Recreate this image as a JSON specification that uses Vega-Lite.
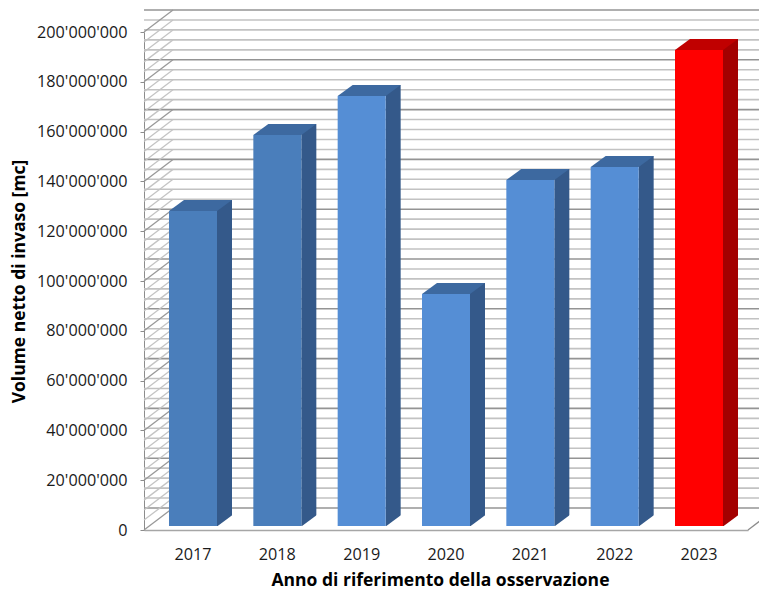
{
  "$schema": "https://vega.github.io/schema/vega-lite/v6.json",
  "width": 604,
  "height": 498,
  "autosize": {"type": "none"},
  "padding": {"left": 144, "top": 32, "right": 11, "bottom": 62},
  "background": "white",
  "config": {
    "locale": {"number": {"decimal": ".", "thousands": "'", "grouping": [3], "currency": ["", ""]}},
    "view": {"stroke": null},
    "axis": {
      "labelFont": "Open Sans", "labelFontSize": 16.2, "labelColor": "#1a1a1a",
      "titleFont": "Open Sans", "titleFontSize": 17.5, "titleFontWeight": "bold", "titleColor": "#000000",
      "domainColor": "#8c8c8c", "tickColor": "#8c8c8c", "grid": false
    }
  },
  "datasets": {
    "griglia": [
      {"valore": 0}, {"valore": 4000000}, {"valore": 8000000}, {"valore": 12000000}, {"valore": 16000000},
      {"valore": 20000000}, {"valore": 24000000}, {"valore": 28000000}, {"valore": 32000000}, {"valore": 36000000},
      {"valore": 40000000}, {"valore": 44000000}, {"valore": 48000000}, {"valore": 52000000}, {"valore": 56000000},
      {"valore": 60000000}, {"valore": 64000000}, {"valore": 68000000}, {"valore": 72000000}, {"valore": 76000000},
      {"valore": 80000000}, {"valore": 84000000}, {"valore": 88000000}, {"valore": 92000000}, {"valore": 96000000},
      {"valore": 100000000}, {"valore": 104000000}, {"valore": 108000000}, {"valore": 112000000}, {"valore": 116000000},
      {"valore": 120000000}, {"valore": 124000000}, {"valore": 128000000}, {"valore": 132000000}, {"valore": 136000000},
      {"valore": 140000000}, {"valore": 144000000}, {"valore": 148000000}, {"valore": 152000000}, {"valore": 156000000},
      {"valore": 160000000}, {"valore": 164000000}, {"valore": 168000000}, {"valore": 172000000}, {"valore": 176000000},
      {"valore": 180000000}, {"valore": 184000000}, {"valore": 188000000}, {"valore": 192000000}, {"valore": 196000000},
      {"valore": 200000000}
    ],
    "barre": [
      {"anno": "2017", "valore": 126500000},
      {"anno": "2018", "valore": 157000000},
      {"anno": "2019", "valore": 172700000},
      {"anno": "2020", "valore": 93200000},
      {"anno": "2021", "valore": 139000000},
      {"anno": "2022", "valore": 144200000},
      {"anno": "2023", "valore": 191200000}
    ]
  },
  "layer": [
    {
      "data": {"name": "griglia"},
      "mark": {"type": "rule", "xOffset": 29, "yOffset": -22, "strokeWidth": 1.6},
      "encoding": {
        "y": {
          "field": "valore", "type": "quantitative",
          "scale": {"domain": [0, 200000000], "nice": false, "zero": true},
          "axis": {
            "values": [0, 20000000, 40000000, 60000000, 80000000, 100000000, 120000000, 140000000, 160000000, 180000000, 200000000],
            "format": ",d", "tickSize": 4, "labelPadding": 13,
            "title": "Volume netto di invaso [mc]", "titlePadding": 8
          }
        },
        "color": {"condition": {"test": "datum.valore % 20000000 == 0", "value": "#949494"}, "value": "#c2c2c2"}
      }
    },
    {
      "data": {"name": "griglia"},
      "mark": {"type": "point", "shape": "M 0 0 L 29 -22", "size": 4, "x": 0, "filled": false, "opacity": 1, "strokeWidth": 1.3},
      "encoding": {
        "y": {"field": "valore", "type": "quantitative"},
        "color": {"condition": {"test": "datum.valore % 20000000 == 0", "value": "#999999"}, "value": "#c4c4c4"}
      }
    },
    {
      "data": {"name": "griglia"},
      "transform": [{"filter": "datum.valore == 0"}],
      "mark": {"type": "point", "shape": "M 0 0 L 29 -22", "size": 4, "x": "width", "filled": false, "opacity": 1, "strokeWidth": 1.3, "color": "#8c8c8c"},
      "encoding": {
        "y": {"field": "valore", "type": "quantitative"}
      }
    },
    {
      "data": {"name": "barre"},
      "mark": {"type": "bar", "width": 15, "xOffset": 31.5, "yOffset": -15, "y2Offset": -4},
      "encoding": {
        "x": {
          "field": "anno", "type": "nominal",
          "scale": {"type": "band", "paddingInner": 0.43, "paddingOuter": 0.296},
          "axis": {"title": "Anno di riferimento della osservazione", "ticks": false, "labelPadding": 16, "titlePadding": 9, "titleX": 296, "labelAngle": 0, "domainColor": "#a6a6a6", "domainWidth": 1.3}
        },
        "y": {"field": "valore", "type": "quantitative"},
        "y2": {"datum": 0},
        "color": {"condition": {"test": "datum.anno == '2023'", "value": "#a30000"}, "value": "#34598a"}
      }
    },
    {
      "data": {"name": "barre"},
      "mark": {"type": "point", "shape": "M 24 0.5 L 39.5 -11 L 40 -11 L 40 2 L 24 2 Z", "size": 4, "filled": true, "opacity": 1, "color": "#ffffff", "yOffset": -4},
      "encoding": {
        "x": {"field": "anno", "type": "nominal"},
        "y": {"datum": 0}
      }
    },
    {
      "data": {"name": "barre"},
      "mark": {"type": "bar", "width": 48, "yOffset": -4, "y2Offset": -4},
      "encoding": {
        "x": {"field": "anno", "type": "nominal"},
        "y": {"field": "valore", "type": "quantitative"},
        "y2": {"datum": 0},
        "color": {
          "condition": [
            {"test": "datum.anno == '2023'", "value": "#ff0000"},
            {"test": "datum.anno == '2017' || datum.anno == '2018'", "value": "#4a7ebb"}
          ],
          "value": "#558ed5"
        }
      }
    },
    {
      "data": {"name": "barre"},
      "mark": {"type": "point", "shape": "M -24 0 L 24 0 L 39 -11 L -9 -11 Z", "size": 4, "filled": true, "opacity": 1, "yOffset": -4},
      "encoding": {
        "x": {"field": "anno", "type": "nominal"},
        "y": {"field": "valore", "type": "quantitative"},
        "color": {"condition": {"test": "datum.anno == '2023'", "value": "#c00000"}, "value": "#3d69a0"}
      }
    }
  ]
}
